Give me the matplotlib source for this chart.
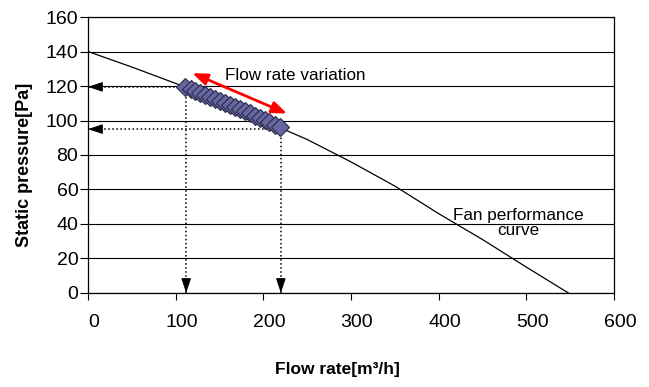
import matplotlib
matplotlib.use('Agg')
import matplotlib.pyplot as plt
import matplotlib.transforms as mtransforms

plt.rcParams['font.family'] = ['Liberation Sans', 'DejaVu Sans']

# fan performance curve
fan_flow = [0, 50, 100, 150, 200, 250, 300, 350, 400, 450, 500, 548]
fan_pressure = [140, 131, 121.5, 111, 100, 89, 76, 62, 46, 31, 15, 0]

# operating points (flow rate variation)
op_flow = [111, 117, 122, 128, 134, 139, 145, 151, 156, 162,
           168, 173, 179, 185, 190, 196, 202, 207, 213, 219]
op_pressure = [119.5, 118.3, 117.2, 116, 114.8, 113.6, 112.5, 111.3, 110.1, 108.9,
               107.7, 106.5, 105.3, 104.1, 102.9, 101.7, 100.5, 99.3, 97.6, 96]

# projection lines
drop_flow = [112, 220]
drop_pressure = [119.5, 95]

# red double arrow end points
var_start = (119, 127.5)
var_end = (227, 104)

fig, ax = plt.subplots(figsize=(6.49, 3.87), dpi=100)
fig.subplots_adjust(left=0.1356, right=0.946, bottom=0.243, top=0.956)

ax.set_xlim(0, 600)
ax.set_ylim(0, 160)
ax.set_xticks(range(0, 601, 100))
ax.set_yticks(range(0, 161, 20))
ax.yaxis.grid(True, color='black', linewidth=0.8)
ax.set_axisbelow(True)
for s in ax.spines.values():
    s.set_linewidth(0.9)
ax.tick_params(axis='x', direction='out', length=5, pad=10, labelsize=14)
ax.tick_params(axis='y', direction='out', length=6, pad=1, labelsize=14)

# shift x tick labels a bit to the right like the original
offset = mtransforms.ScaledTranslation(6 / 100, 0, fig.dpi_scale_trans)
for lbl in ax.get_xticklabels():
    lbl.set_transform(lbl.get_transform() + offset)

ax.plot(fan_flow, fan_pressure, color='black', linewidth=0.9, zorder=3)

# dotted projection lines with arrow heads
for q, p in zip(drop_flow, drop_pressure):
    ax.plot([0, q], [p, p], color='black', linestyle=':', linewidth=1.1, zorder=3)
    ax.plot([q, q], [0, p], color='black', linestyle=':', linewidth=1.1, zorder=3)
    ax.annotate('', xy=(0, p), xytext=(10, p),
                arrowprops=dict(arrowstyle='-|>,head_length=0.9,head_width=0.3',
                                color='black', lw=0.8, shrinkA=0, shrinkB=0), zorder=4)
    ax.annotate('', xy=(q, 0), xytext=(q, 5),
                arrowprops=dict(arrowstyle='-|>,head_length=0.9,head_width=0.3',
                                color='black', lw=0.8, shrinkA=0, shrinkB=0), zorder=4)

ax.plot(op_flow, op_pressure, linestyle='none', marker='D', markersize=9,
        markerfacecolor='#6666a0', markeredgecolor='#2a2a4a', markeredgewidth=0.8, zorder=5)

ax.annotate('', xy=var_start, xytext=var_end,
            arrowprops=dict(arrowstyle='<|-|>,head_length=0.9,head_width=0.35',
                            color='red', lw=2, shrinkA=0, shrinkB=0), zorder=6)

ax.text(156, 126, 'Flow rate variation', fontsize=12.3, va='center', ha='left')
ax.text(491, 40.5, 'Fan performance\ncurve', fontsize=12.3, va='center', ha='center',
        linespacing=1.0)

ax.set_xlabel('Flow rate[m³/h]', fontsize=12.5, fontweight='bold')
ax.set_ylabel('Static pressure[Pa]', fontsize=13, fontweight='bold')
ax.xaxis.set_label_coords(0.475, -0.279)
ax.yaxis.set_label_coords(-0.12, 0.464)
ax.xaxis.label.set_va('center')
ax.yaxis.label.set_va('center')

fig.savefig('out.png', dpi=100)
